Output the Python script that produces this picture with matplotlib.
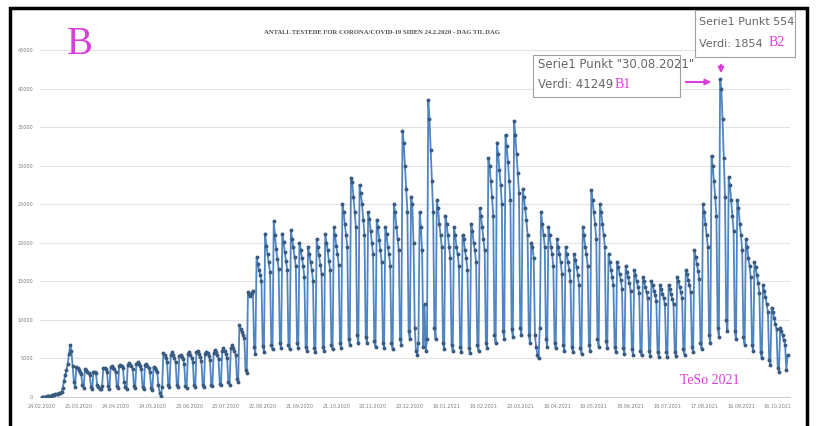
import numpy as np
import matplotlib.pyplot as plt
from matplotlib.patches import Rectangle, FancyArrowPatch

# daily number of tests, one line per week (Mon..Sun), from 24.02.2020
tests = [
    20, 30, 40, 60, 90, 110, 130,
    170, 210, 260, 300, 340, 380, 420,
    460, 520, 700, 1200, 2100, 2900, 3500,
    4300, 5600, 6700, 6000, 4000, 2000, 1300,
    3900, 3700, 3500, 3300, 3000, 1500, 1200,
    3600, 3500, 3300, 3100, 2800, 1300, 1100,
    3200, 3300, 3100, 1600, 1300, 1100, 1000,
    1400, 3700, 3800, 3600, 3300, 1400, 1100,
    3900, 4000, 3800, 3600, 3200, 1400, 1200,
    4000, 4200, 4000, 3800, 1900, 1300, 1100,
    4200, 4400, 4200, 4000, 3600, 1400, 1200,
    4300, 4500, 4300, 4000, 3600, 1300, 1000,
    4100, 4300, 4000, 3800, 3300, 1200, 900,
    3900, 3800, 3500, 3200, 1500, 500, 150,
    1300, 5700, 5400, 5000, 4600, 1600, 1300,
    5400, 5800, 5400, 5000, 4500, 1500, 1300,
    5300, 5500, 5200, 4900, 4300, 1400, 1200,
    5600, 5900, 5500, 5100, 4600, 1500, 1300,
    5800, 6000, 5600, 5200, 4700, 1600, 1300,
    5600, 5900, 5700, 5300, 4800, 1600, 1400,
    5700, 6100, 5800, 5400, 4900, 1700, 1500,
    6000, 6300, 6000, 5600, 5100, 1900, 1600,
    6300, 6700, 6400, 6000, 5500, 2300, 2000,
    9300, 8800, 8400, 8000, 7600, 3500, 3100,
    13600, 13400, 13100, 13500, 13800, 6500, 5600,
    18100, 17300, 16500, 15800, 15000, 6600, 5900,
    21200, 19600, 18500, 17500, 16200, 6800, 6200,
    22800, 21000, 19200, 17900, 16600, 7000, 6300,
    21200, 20100, 18800, 17600, 16500, 6800, 6200,
    21600, 20500, 19400, 18100, 17000, 7000, 6300,
    20000, 19100, 18000, 17000, 15500, 6500, 6000,
    19500, 18600, 17500, 16500, 15100, 6300, 5800,
    20500, 19400, 18400, 17100, 16000, 6500, 6000,
    21100, 20000, 19000, 17600, 16500, 6800, 6200,
    22000, 21000, 19600, 18500, 17100, 7000, 6300,
    25000, 24000, 22400, 21000, 19500, 7500, 6800,
    28400, 27900, 26000, 24000, 22000, 8000, 7000,
    27500, 26400, 25000, 23000, 21000, 7800, 7000,
    24000, 23100, 21500, 20000, 18500, 7200, 6500,
    23000, 22000, 20400, 19000, 17500, 7000, 6300,
    22000, 21100, 19500, 18500, 17000, 7000, 6200,
    25000, 24000, 22100, 20500, 19000, 7500, 6800,
    34500, 33000, 30000, 27000, 24000, 8500, 7500,
    26000, 25000, 20000, 9000, 6000, 5500, 7000,
    24000, 22000, 19000, 6500, 12000, 6000, 7500,
    38500, 36000, 32000, 28000, 24000, 9000, 7500,
    25500, 24500, 22500, 21000, 19500, 7000, 6200,
    23500, 22500, 21000, 19500, 18000, 6800, 6000,
    22000, 21000, 19500, 18500, 17000, 6500, 5800,
    21000, 20500, 19000, 18000, 16500, 6400, 5700,
    22500, 21500, 20000, 19000, 17500, 6700, 6000,
    24500, 23500, 22000, 20500, 19000, 7000, 6300,
    31000, 30000, 28000, 26000, 23500, 8000, 7000,
    33000, 31500, 29500, 27500, 25000, 8500, 7500,
    34000, 32500, 30500, 28000, 25500, 8800, 7800,
    35800, 34000, 31500, 29000, 26500, 9000, 8000,
    27000, 26000, 24500, 23000, 21000, 8000, 7000,
    20000, 19500, 18000, 8000, 6500, 5500, 5000,
    9000, 24000, 22500, 21000, 19500, 7500, 6500,
    22000, 21000, 19500, 18500, 17000, 7000, 6300,
    20500, 19500, 18500, 17500, 16000, 6800, 6000,
    19500, 18500, 17500, 16500, 15000, 6500, 5800,
    18500, 17800, 16800, 15800, 14500, 6300, 5600,
    22000, 21000, 19500, 18500, 17000, 6800, 6000,
    26800, 25500, 24000, 22500, 20500, 7500, 6500,
    25000, 24000, 22500, 21000, 19500, 7200, 6300,
    18500, 17500, 16500, 15500, 14500, 6500, 5800,
    17500, 16800, 16000, 15200, 14000, 6300, 5600,
    17000, 16200, 15500, 14800, 13800, 6200, 5500,
    16500, 15800, 15000, 14300, 13500, 6000, 5400,
    15500, 15000, 14300, 13600, 12800, 6000, 5300,
    15000, 14500, 13800, 13200, 12500, 5800, 5200,
    14500, 14000, 13400, 12800, 12000, 5800, 5200,
    14500, 14000, 13300, 12700, 12000, 5900, 5300,
    15500, 15000, 14300, 13600, 12800, 6200, 5500,
    16500, 16000, 15200, 14500, 13600, 6500, 5800,
    19000, 18200, 17300, 16400, 15300, 7000, 6200,
    25000, 24000, 22500, 21000, 19500, 8000, 7000,
    31300, 30000, 28000, 26000, 23500, 9000, 7800,
    41249, 40000, 36000, 31000, 26000, 10000, 8500,
    28500, 27500, 25500, 23500, 21500, 8500, 7500,
    25500, 24500, 22500, 21000, 19000, 7800, 6800,
    20500, 19500, 18000, 17000, 15500, 6800, 6000,
    17500, 16800, 15800, 14800, 13500, 5800, 5000,
    14500, 13800, 13000, 12000, 11000, 4800, 4200,
    11500, 11000, 10300, 9500, 8800, 3800, 3300,
    9000, 8600, 8000, 7400, 6800, 3500, 5400,
]

tick_pos = list(range(0, 601, 30))
tick_labels = ["24.02.2020", "25.03.2020", "24.04.2020", "24.05.2020", "23.06.2020",
               "23.07.2020", "22.08.2020", "21.09.2020", "21.10.2020", "20.11.2020",
               "20.12.2020", "19.01.2021", "18.02.2021", "20.03.2021", "19.04.2021",
               "19.05.2021", "18.06.2021", "18.07.2021", "17.08.2021", "16.09.2021",
               "16.10.2021"]
y_ticks = list(range(0, 45001, 5000))

W, H = 818, 426
def fx(x):
    return x / W
def fy(y):
    return 1 - y / H

fig = plt.figure(figsize=(8.18, 4.26), dpi=100)
ax = fig.add_axes([fx(40), fy(397), fx(790) - fx(40), fy(50) - fy(397)])

x = np.arange(len(tests))
ax.plot(x, tests, color='#4f85c2', lw=1.3, marker='o', ms=1.8,
        mfc='#3a5a80', mec='#3a5a80', zorder=3)

ax.set_xlim(-1.6, 610)
ax.set_ylim(0, 45000)
ax.set_yticks(y_ticks)
ax.set_yticklabels([str(v) for v in y_ticks], fontsize=3.5, color='#7f7f7f')
ax.set_xticks(tick_pos)
ax.set_xticklabels(tick_labels, fontsize=3.5, color='#7f7f7f')
ax.tick_params(length=0, pad=5)
ax.grid(axis='y', color='#e3e3e3', lw=0.8)
ax.set_axisbelow(True)
for s in ['top', 'right', 'left']:
    ax.spines[s].set_visible(False)
ax.spines['bottom'].set_color('#d0d0d0')

fig.text(fx(382), fy(33), "ANTALL TESTEDE FOR CORONA/COVID-19 SIDEN 24.2.2020 - DAG TIL DAG",
         ha='center', va='center', fontsize=4.8, color='#505050',
         family='Liberation Serif', weight='bold')

# outer frame
fig.add_artist(Rectangle((fx(10), -0.1), fx(807) - fx(10), fy(8) + 0.1,
                         transform=fig.transFigure, fill=False, ec='black', lw=2.5))

magenta = '#d93ed8'
fig.text(fx(80), fy(45), "B", ha='center', va='center', fontsize=28,
         color=magenta, family='Liberation Serif')
fig.text(fx(710), fy(381), "TeSo 2021", ha='center', va='center', fontsize=10,
         color=magenta, family='Liberation Serif')

# data label boxes
fig.add_artist(Rectangle((fx(533), fy(97)), fx(680) - fx(533), fy(55) - fy(97),
                         transform=fig.transFigure, fc='white', ec='#a0a0a0', lw=0.8, zorder=5))
fig.text(fx(538), fy(65), 'Serie1 Punkt "30.08.2021"', fontsize=8.5, color='#666666',
         va='center', family='Liberation Sans Narrow', zorder=6)
fig.text(fx(538), fy(85), 'Verdi: 41249', fontsize=8.5, color='#666666',
         va='center', family='Liberation Sans Narrow', zorder=6)
fig.text(fx(615), fy(84), 'B1', fontsize=10, color=magenta,
         va='center', family='Liberation Serif', zorder=6)

fig.add_artist(Rectangle((fx(695), fy(57)), fx(795) - fx(695), fy(10) - fy(57),
                         transform=fig.transFigure, fc='white', ec='#a0a0a0', lw=0.8, zorder=5))
fig.text(fx(699), fy(22), 'Serie1 Punkt 554', fontsize=8, color='#666666',
         va='center', family='Liberation Sans Narrow', zorder=6)
fig.text(fx(699), fy(44), 'Verdi: 1854', fontsize=8, color='#666666',
         va='center', family='Liberation Sans Narrow', zorder=6)
fig.text(fx(769), fy(43), 'B2', fontsize=10, color=magenta,
         va='center', family='Liberation Serif', zorder=6)

fig.add_artist(FancyArrowPatch((fx(683), fy(82)), (fx(714), fy(82)),
                               transform=fig.transFigure, arrowstyle='-|>',
                               mutation_scale=8, color=magenta, lw=1.5))
fig.add_artist(FancyArrowPatch((fx(721), fy(62)), (fx(721), fy(76)),
                               transform=fig.transFigure, arrowstyle='-|>',
                               mutation_scale=8, color=magenta, lw=1.5))

fig.savefig('out.png', dpi=100)
